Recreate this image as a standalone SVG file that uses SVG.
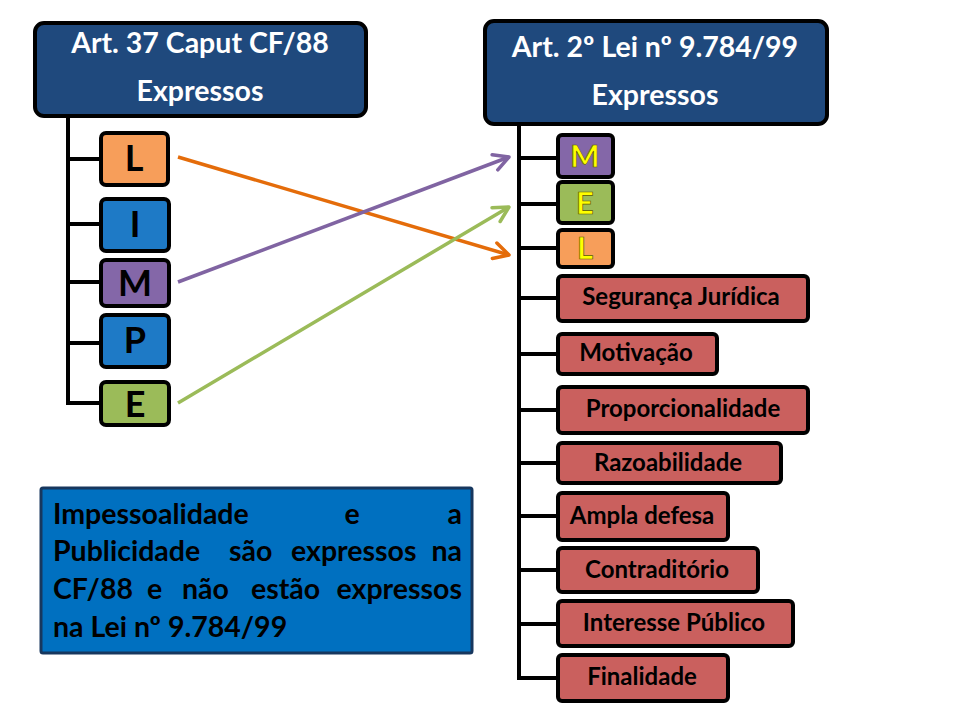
<svg xmlns="http://www.w3.org/2000/svg" width="960" height="720" viewBox="0 0 960 720">
<style>
.hdr{fill:#1F497D;stroke:#000;stroke-width:4}
.ht{font-family:Lato,"Liberation Sans",sans-serif;font-weight:bold;font-size:28.5px;fill:#fff;text-anchor:middle}
.lb{stroke:#000;stroke-width:4}
.lt{font-family:Lato,"Liberation Sans",sans-serif;font-weight:bold;font-size:36px;fill:#000;text-anchor:middle}
.yt{font-family:Lato,"Liberation Sans",sans-serif;font-weight:bold;font-size:31px;fill:#FFFF00;stroke:#5a5a00;stroke-width:0.7;text-anchor:middle}
.rb{fill:#CA605E;stroke:#000;stroke-width:4}
.rt{font-family:Lato,"Liberation Sans",sans-serif;font-weight:bold;font-size:24px;fill:#000;text-anchor:middle}
.tree{stroke:#000;stroke-width:4;fill:none}
.nt{font-family:Lato,"Liberation Sans",sans-serif;font-weight:bold;font-size:28.5px;fill:#000}
</style>
<defs>
<marker id="ao" markerWidth="20" markerHeight="20" refX="18" refY="10" orient="auto" markerUnits="userSpaceOnUse" viewBox="0 0 20 20"><path d="M3,2 L18,10 L3,18" fill="none" stroke="#E46C0A" stroke-width="3.5" stroke-linecap="round" stroke-linejoin="round"/></marker>
<marker id="ap" markerWidth="20" markerHeight="20" refX="18" refY="10" orient="auto" markerUnits="userSpaceOnUse" viewBox="0 0 20 20"><path d="M3,2 L18,10 L3,18" fill="none" stroke="#8064A2" stroke-width="3.5" stroke-linecap="round" stroke-linejoin="round"/></marker>
<marker id="ag" markerWidth="20" markerHeight="20" refX="18" refY="10" orient="auto" markerUnits="userSpaceOnUse" viewBox="0 0 20 20"><path d="M3,2 L18,10 L3,18" fill="none" stroke="#9BBB59" stroke-width="3.5" stroke-linecap="round" stroke-linejoin="round"/></marker>
</defs>
<rect width="960" height="720" fill="#fff"/>

<g id="connectors">
<path class="tree" d="M68,117 V403 M68,159 H101 M68,224 H101 M68,282 H101 M68,343 H101 M66,403 H101"/>
<path class="tree" d="M519,125 V678 M519,158 H558 M519,204 H558 M519,248 H558 M519,298 H558 M519,354 H558 M519,410 H558 M519,463 H558 M519,516 H558 M519,570 H558 M519,624 H558 M517,678 H558"/>
<line x1="178" y1="157" x2="509" y2="255" stroke="#E46C0A" stroke-width="3.5" marker-end="url(#ao)"/>
<line x1="178" y1="282" x2="509" y2="157" stroke="#8064A2" stroke-width="3.5" marker-end="url(#ap)"/>
<line x1="178" y1="403" x2="509" y2="207" stroke="#9BBB59" stroke-width="3.5" marker-end="url(#ag)"/>
</g>

<g id="hdr-left">
<rect class="hdr" x="35" y="23" width="331" height="93" rx="9"/>
<text class="ht" x="200" y="53">Art. 37 Caput CF/88</text>
<text class="ht" x="200" y="101">Expressos</text>
</g>
<g id="hdr-right">
<rect class="hdr" x="485" y="21" width="342" height="103" rx="9"/>
<text class="ht" x="655" y="57">Art. 2º Lei nº 9.784/99</text>
<text class="ht" x="655" y="105">Expressos</text>
</g>

<g id="l-L"><rect class="lb" x="101" y="133" width="67" height="52" rx="5" fill="#F79E5A"/><text class="lt" x="134" y="171">L</text></g>
<g id="l-I"><rect class="lb" x="101" y="199" width="68" height="52" rx="5" fill="#1E7AC6"/><text class="lt" x="135" y="237">I</text></g>
<g id="l-M"><rect class="lb" x="101" y="260" width="68" height="46" rx="5" fill="#8467A8"/><text class="lt" x="135" y="296">M</text></g>
<g id="l-P"><rect class="lb" x="101" y="315" width="68" height="52" rx="5" fill="#1E7AC6"/><text class="lt" x="135" y="353">P</text></g>
<g id="l-E"><rect class="lb" x="101" y="382" width="68" height="43" rx="5" fill="#9BBB59"/><text class="lt" x="135" y="417">E</text></g>

<g id="r-M"><rect class="lb" x="558" y="135" width="55" height="42" rx="4" fill="#8467A8"/><text class="yt" x="585" y="167">M</text></g>
<g id="r-E"><rect class="lb" x="558" y="182" width="55" height="41" rx="4" fill="#9BBB59"/><text class="yt" x="585" y="214">E</text></g>
<g id="r-L"><rect class="lb" x="558" y="230" width="55" height="37" rx="4" fill="#F79E5A"/><text class="yt" x="585" y="259">L</text></g>

<g id="r-seg"><rect class="rb" x="558" y="276" width="250" height="45" rx="4"/><text class="rt" x="681" y="305">Segurança Jurídica</text></g>
<g id="r-mot"><rect class="rb" x="558" y="334" width="159" height="40" rx="4"/><text class="rt" x="636" y="361">Motivação</text></g>
<g id="r-pro"><rect class="rb" x="558" y="387" width="250" height="46" rx="4"/><text class="rt" x="683" y="417">Proporcionalidade</text></g>
<g id="r-raz"><rect class="rb" x="558" y="443" width="223" height="40" rx="4"/><text class="rt" x="668" y="471">Razoabilidade</text></g>
<g id="r-amp"><rect class="rb" x="558" y="493" width="170" height="47" rx="4"/><text class="rt" x="642" y="524">Ampla defesa</text></g>
<g id="r-con"><rect class="rb" x="558" y="548" width="200" height="44" rx="4"/><text class="rt" x="657" y="578">Contraditório</text></g>
<g id="r-int"><rect class="rb" x="558" y="601" width="235" height="45" rx="4"/><text class="rt" x="674" y="631">Interesse Público</text></g>
<g id="r-fin"><rect class="rb" x="558" y="655" width="170" height="46" rx="4"/><text class="rt" x="642" y="685">Finalidade</text></g>

<g id="note">
<rect x="41" y="488" width="431" height="165" fill="#0070C0" stroke="#17375E" stroke-width="3" rx="2"/>
<text class="nt" x="53" y="524">Impessoalidade</text>
<text class="nt" x="352" y="524" text-anchor="middle">e</text>
<text class="nt" x="462" y="524" text-anchor="end">a</text>
<text class="nt" x="53" y="561">Publicidade</text>
<text class="nt" x="229" y="561">são</text>
<text class="nt" x="291" y="561">expressos</text>
<text class="nt" x="462" y="561" text-anchor="end">na</text>
<text class="nt" x="53" y="599">CF/88</text>
<text class="nt" x="147" y="599">e</text>
<text class="nt" x="182" y="599">não</text>
<text class="nt" x="251" y="599">estão</text>
<text class="nt" x="462" y="599" text-anchor="end">expressos</text>
<text class="nt" x="53" y="637">na Lei nº 9.784/99</text>
</g>
</svg>
